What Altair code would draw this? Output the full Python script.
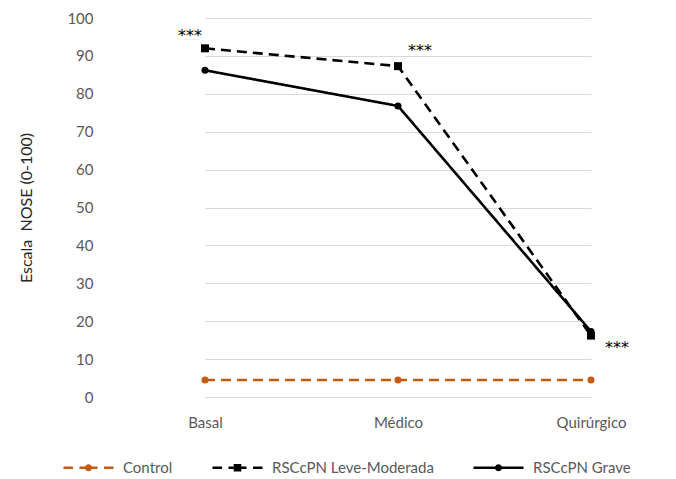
import altair as alt
import pandas as pd

# Categories and series values (Escala NOSE, 0-100)
categories = ["Basal", "Médico", "Quirúrgico"]
series_names = ["Control", "RSCcPN Leve-Moderada", "RSCcPN Grave"]
control = [4.5, 4.5, 4.5]
leve_moderada = [92.0, 87.3, 16.2]
grave = [86.2, 76.8, 17.3]
y_ticks = [0, 10, 20, 30, 40, 50, 60, 70, 80, 90, 100]

# Significance marks on the Leve-Moderada series
star_cats = ["Basal", "Médico", "Quirúrgico"]
star_vals = [92.0, 87.3, 16.2]

rows = []
for name, vals in zip(series_names, [control, leve_moderada, grave]):
    for cat, v in zip(categories, vals):
        rows.append({"Momento": cat, "Serie": name, "Valor": v})
df = pd.DataFrame(rows)

ORANGE = "#C55A11"
FONT = "Lato"
series_colors = [ORANGE, "black", "black"]
series_dashes = [[10, 6], [10, 6], [1, 0]]
series_markers = ["circle", "square", "circle"]
marker_sizes = [50, 64, 50]

x_scale = alt.Scale(type="point", range=[97, 483], padding=0)
y_scale = alt.Scale(domain=[0, 100], nice=False)

x_enc = alt.X(
    "Momento:N",
    sort=categories,
    scale=x_scale,
    axis=alt.Axis(
        title=None, labelAngle=0, ticks=False, labelPadding=18,
        domainColor="#D9D9D9", grid=False, labelColor="#595959",
        labelFontSize=15, labelFont=FONT,
    ),
)
y_enc = alt.Y(
    "Valor:Q",
    scale=y_scale,
    axis=alt.Axis(
        title="Escala\u00a0 NOSE (0-100)", values=y_ticks, ticks=False, domain=False,
        gridColor="#D9D9D9", labelPadding=15, labelColor="#595959",
        labelFontSize=15, labelFont=FONT, titleFont=FONT, titleFontSize=16,
        titleFontWeight="normal", titleColor="#262626", titlePadding=32,
        labelOverlap=False,
    ),
)

# One line layer and one marker layer per series
series_layers = []
for name, col, dash in zip(series_names, series_colors, series_dashes):
    series_layers.append(
        alt.Chart(df).transform_filter(alt.datum.Serie == name)
        .mark_line(color=col, strokeDash=dash, strokeWidth=2.6)
        .encode(x=x_enc, y=y_enc)
    )
for name, col, marker, size in zip(series_names, series_colors, series_markers, marker_sizes):
    base = alt.Chart(df).transform_filter(alt.datum.Serie == name)
    if marker == "square":
        mark = base.mark_square(color=col, size=size, opacity=1)
    else:
        mark = base.mark_circle(color=col, size=size, opacity=1)
    series_layers.append(mark.encode(x=x_enc, y=y_enc))

# Legend symbols: a line segment (dashed or solid) with the series marker on it
dashed_line = "M-1,0H-0.62M-0.36,0H0.36M0.62,0H1"
solid_line = "M-1,0H1"
circle_marker = "M-0.09,0A0.09,0.09,0,1,1,0.09,0A0.09,0.09,0,1,1,-0.09,0Z"
square_marker = "M-0.1,-0.1H0.1V0.1H-0.1Z"
legend_paths = [
    dashed_line + circle_marker,
    dashed_line + square_marker,
    solid_line + circle_marker,
]

legend_layer = alt.Chart(df).transform_filter("false").mark_point(
    filled=False, strokeWidth=2.6, opacity=1
).encode(
    x=x_enc,
    y=y_enc,
    color=alt.Color("Serie:N", scale=alt.Scale(domain=series_names, range=series_colors),
                    legend=alt.Legend(title=None)),
    shape=alt.Shape("Serie:N", scale=alt.Scale(domain=series_names, range=legend_paths),
                    legend=alt.Legend(title=None)),
)

star_offsets = [(-15, -12), (22, -15), (26, 12)]
stars = []
for cat, val, (dx, dy) in zip(star_cats, star_vals, star_offsets):
    sdf = pd.DataFrame({"Momento": [cat], "Valor": [val], "t": ["***"]})
    stars.append(
        alt.Chart(sdf).mark_text(dx=dx, dy=dy, fontSize=16, font="DejaVu Sans",
                                 color="black", baseline="middle").encode(
            x=x_enc,
            y=y_enc,
            text="t:N",
        )
    )

chart = alt.layer(*series_layers, legend_layer, *stars).resolve_legend(
    color="independent", shape="independent"
).properties(
    width=568,
    height=379,
    autosize=alt.AutoSizeParams(type="none"),
    padding={"left": 108, "top": 18, "right": 0, "bottom": 82},
).configure_view(stroke=None).configure_legend(
    orient="none",
    legendX=-46,
    legendY=423,
    direction="horizontal",
    symbolSize=2500,
    symbolStrokeWidth=2.6,
    labelFontSize=15,
    labelFont=FONT,
    labelColor="#595959",
    labelLimit=400,
    labelOffset=8,
    columnPadding=34,
    symbolOffset=0,
)

chart.save("out.html", embed_options={"renderer": "svg", "actions": False})
